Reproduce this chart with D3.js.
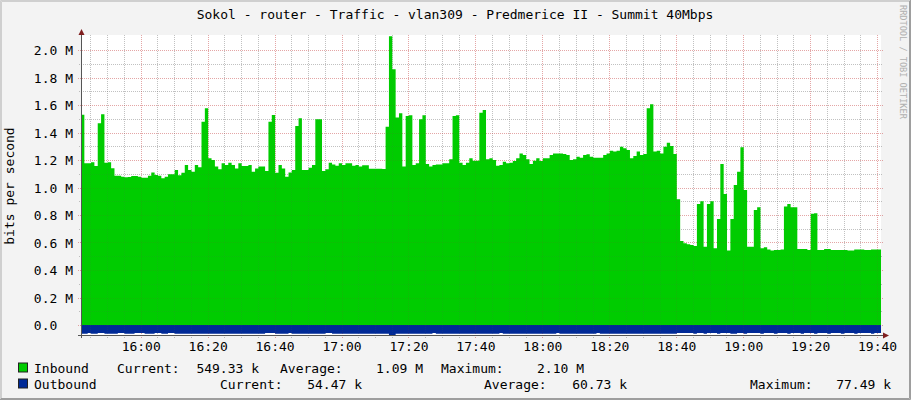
<!DOCTYPE html>
<html><head><meta charset="utf-8">
<script src="https://cdn.jsdelivr.net/npm/d3@7"></script>
<style>
body{margin:0;background:#F3F3F3;}
svg{display:block;font-family:"DejaVu Sans Mono",monospace;}
</style></head><body>
<svg id="c" width="911" height="400"></svg>
<script>
const title = "Sokol - router - Traffic - vlan309 - Predmerice II - Summit 40Mbps";
const yAxisTitle = "bits per second";
const watermark = "RRDTOOL / TOBI OETIKER";
// one value per minute starting at 15:42:10 (Mbit/s)
const inboundM = [
1.53,1.176,1.176,1.183,1.156,1.467,1.532,1.18,1.183,1.14,
1.086,1.086,1.079,1.074,1.076,1.084,1.084,1.079,1.071,1.071,
1.086,1.11,1.091,1.086,1.067,1.079,1.096,1.096,1.127,1.09,
1.108,1.164,1.127,1.115,1.164,1.147,1.479,1.576,1.212,1.2,
1.152,1.132,1.176,1.164,1.18,1.164,1.139,1.176,1.156,1.156,
1.164,1.115,1.139,1.152,1.152,1.12,1.479,1.527,1.108,1.164,
1.139,1.079,1.11,1.127,1.447,1.503,1.127,1.127,1.144,1.164,
1.496,1.496,1.12,1.132,1.18,1.168,1.159,1.176,1.164,1.176,
1.176,1.159,1.164,1.152,1.161,1.161,1.137,1.137,1.137,1.137,
1.135,1.442,2.10,1.86,1.51,1.54,1.152,1.52,1.525,1.164,
1.176,1.496,1.525,1.171,1.152,1.164,1.168,1.168,1.176,1.176,
1.205,1.52,1.525,1.18,1.164,1.18,1.212,1.195,1.195,1.544,
1.564,1.205,1.212,1.2,1.159,1.164,1.188,1.176,1.18,1.193,
1.212,1.248,1.236,1.205,1.171,1.195,1.212,1.193,1.212,1.212,
1.236,1.248,1.248,1.248,1.244,1.236,1.2,1.205,1.224,1.217,
1.236,1.241,1.224,1.217,1.217,1.217,1.236,1.248,1.268,1.261,
1.268,1.297,1.285,1.273,1.212,1.229,1.261,1.236,1.244,1.576,
1.605,1.261,1.268,1.248,1.297,1.326,1.302,1.244,0.914,0.611,
0.594,0.587,0.582,0.575,0.88,0.9,0.57,0.88,0.9,0.558,
0.771,1.171,0.953,0.541,0.771,1.018,1.115,1.292,0.982,0.57,
0.57,0.836,0.856,0.558,0.565,0.55,0.541,0.545,0.545,0.55,
0.861,0.88,0.856,0.856,0.553,0.553,0.553,0.545,0.81,0.812,
0.545,0.545,0.553,0.553,0.545,0.545,0.545,0.545,0.545,0.541,
0.541,0.55,0.55,0.55,0.545,0.545,0.55,0.55,0.549
];
// outbound, kbit/s, one value per minute
const outboundK = [
64,64,58,64,64,58,58,64,64,64,
64,58,58,64,64,64,58,58,58,64,
64,64,58,58,64,64,58,58,64,64,
64,64,64,64,64,64,64,64,64,64,
64,64,64,64,64,64,64,64,64,64,
64,64,64,64,64,58,58,58,64,64,
64,64,58,64,64,64,64,64,64,64,
64,64,64,58,58,64,64,64,64,64,
64,64,64,64,64,64,64,64,64,64,
64,64,72,72,64,64,64,64,64,64,
64,64,64,64,64,58,64,64,64,64,
64,64,64,64,64,64,64,64,64,64,
64,64,64,64,64,58,64,64,64,64,
64,64,64,64,64,64,64,64,64,64,
64,64,58,64,64,64,64,64,64,64,
64,64,64,64,58,64,64,64,64,64,
64,64,64,64,64,64,64,64,64,64,
64,64,64,64,64,64,64,64,58,58,
58,58,58,64,58,58,64,58,58,58,
64,58,58,58,64,64,58,58,64,58,
58,58,58,64,58,58,58,64,58,58,
58,64,58,58,58,64,58,58,58,64,
58,58,58,64,58,58,58,64,58,58,
58,64,58,58,58,58,64,58,58
];
const startTime = [15, 42, 10];
const stepSeconds = 60;
const yTickValuesM = [0, 0.2, 0.4, 0.6, 0.8, 1.0, 1.2, 1.4, 1.6, 1.8, 2.0];
const yTickLabels = ["0.0  ", "0.2 M", "0.4 M", "0.6 M", "0.8 M", "1.0 M", "1.2 M", "1.4 M", "1.6 M", "1.8 M", "2.0 M"];
const xTickLabels = ["16:00","16:20","16:40","17:00","17:20","17:40","18:00","18:20","18:40","19:00","19:20","19:40"];
const legendRows = [
  {name:"Inbound",  color:"#00CC00", labels:["Current:","Average:","Maximum:"], values:["549.33 k","1.09 M","2.10 M"]},
  {name:"Outbound", color:"#002A97", labels:["Current:","Average:","Maximum:"], values:["54.47 k","60.73 k","77.49 k"]}
];

const W = 911, H = 400;
const plot = {l:81, r:881, t:35, b:335};
const svg = d3.select("#c");

// frame
svg.append("rect").attr("x",0).attr("y",0).attr("width",W).attr("height",H).attr("fill","#F3F3F3");
svg.append("path").attr("d",`M0.5,${H}V0.5H${W}`).attr("stroke","#CFCFCF").attr("fill","none");
svg.append("path").attr("d",`M1.5,${H-1}V1.5H${W-1}`).attr("stroke","#CFCFCF").attr("fill","none");
svg.append("path").attr("d",`M0,${H-0.5}H${W-0.5}V0`).attr("stroke","#9E9E9E").attr("fill","none");
svg.append("path").attr("d",`M1,${H-1.5}H${W-1.5}V1`).attr("stroke","#9E9E9E").attr("fill","none");

const t0 = new Date(2000,0,1,startTime[0],startTime[1],startTime[2]);
const times = inboundM.map((d,i)=> new Date(t0.getTime() + i*stepSeconds*1000));
const tEnd = new Date(t0.getTime() + inboundM.length*stepSeconds*1000);
const x = d3.scaleTime().domain([t0, tEnd]).range([plot.l, plot.r]);
const y = d3.scaleLinear().domain([0, 2.0]).range([325, 50]);

const parseHM = s => { const [h,m] = s.split(":").map(Number); return new Date(2000,0,1,h,m,0); };
const majorTimes = xTickLabels.map(parseHM);
const minorTimes = d3.timeMinute.every(5).range(t0, tEnd);

// canvas
svg.append("rect").attr("x",plot.l).attr("y",plot.t).attr("width",plot.r-plot.l).attr("height",plot.b-plot.t).attr("fill","#FFFFFF");

svg.append("clipPath").attr("id","pc").append("rect")
  .attr("x",plot.l).attr("y",plot.t).attr("width",plot.r-plot.l).attr("height",plot.b-plot.t);

// grid
const minorYs = d3.range(1, 21).filter(k=>k%2===1).map(k=>k/10);
const crisp = v => Math.round(v)+0.5;
function drawGrid(parent, minorCol, majorCol){
  const g = parent.append("g");
  minorYs.forEach(v=>{
    g.append("line").attr("x1",plot.l-2).attr("x2",plot.r+2).attr("y1",crisp(y(v))).attr("y2",crisp(y(v)))
     .attr("stroke",minorCol).attr("stroke-dasharray","1,1");
  });
  minorTimes.filter(t=>t.getMinutes()%20!==0).forEach(t=>{
    g.append("line").attr("y1",plot.t).attr("y2",plot.b+3).attr("x1",crisp(x(t))).attr("x2",crisp(x(t)))
     .attr("stroke",minorCol).attr("stroke-dasharray","1,1");
  });
  yTickValuesM.forEach(v=>{
    g.append("line").attr("x1",plot.l-3).attr("x2",plot.r+3).attr("y1",crisp(y(v))).attr("y2",crisp(y(v)))
     .attr("stroke",majorCol).attr("stroke-dasharray","1,1");
  });
  majorTimes.forEach(t=>{
    g.append("line").attr("y1",plot.t).attr("y2",plot.b+3).attr("x1",crisp(x(t))).attr("x2",crisp(x(t)))
     .attr("stroke",majorCol).attr("stroke-dasharray","1,1");
  });
  return g;
}
drawGrid(svg, "rgba(143,143,143,0.42)", "rgba(222,79,79,0.42)");

// data areas
const pts = inboundM.map((v,i)=>({t:times[i], v:v}));
pts.push({t:tEnd, v:inboundM[inboundM.length-1]});
const inArea = d3.area().curve(d3.curveStepAfter).x(d=>x(d.t)).y0(y(0)).y1(d=>y(d.v));
svg.append("path").datum(pts).attr("d",inArea).attr("fill","#00CC00").attr("clip-path","url(#pc)");

const opts = outboundK.map((v,i)=>({t:times[i], v:-v/1000}));
opts.push({t:tEnd, v:-outboundK[outboundK.length-1]/1000});
const outArea = d3.area().curve(d3.curveStepAfter).x(d=>x(d.t)).y0(y(0)).y1(d=>y(d.v));
svg.append("path").datum(opts).attr("d",outArea).attr("fill","#002A97").attr("clip-path","url(#pc)");

// faint grid over the data
drawGrid(svg, "rgba(90,90,90,0.12)", "rgba(140,60,60,0.12)");

// axes lines
svg.append("line").attr("x1",plot.l-3).attr("x2",plot.r+3).attr("y1",plot.b+0.5).attr("y2",plot.b+0.5).attr("stroke","#555");
svg.append("line").attr("x1",plot.l+0.5).attr("x2",plot.l+0.5).attr("y1",plot.t-1).attr("y2",plot.b+3).attr("stroke","#555");
svg.append("path").attr("d",`M${plot.l+0.5-3},${plot.t}L${plot.l+0.5},${plot.t-6}L${plot.l+0.5+3},${plot.t}Z`).attr("fill","#801F1F");
svg.append("path").attr("d",`M${plot.r+2},${plot.b+0.5-3}L${plot.r+8},${plot.b+0.5}L${plot.r+2},${plot.b+0.5+3}Z`).attr("fill","#801F1F");

// axes labels via d3 axes
const yAxis = d3.axisLeft(y).tickValues(yTickValuesM).tickSize(0).tickPadding(0)
  .tickFormat((d,i)=>yTickLabels[i]);
const ya = svg.append("g").attr("transform",`translate(73,0)`).call(yAxis);
ya.select(".domain").remove();
ya.selectAll("text").attr("font-family","DejaVu Sans Mono").attr("font-size",13).attr("fill","#000")
  .attr("text-anchor","end").attr("dy","0.35em").style("white-space","pre");

const xAxis = d3.axisBottom(x).tickValues(majorTimes).tickSize(0).tickPadding(0)
  .tickFormat((d,i)=>xTickLabels[i]);
const xa = svg.append("g").attr("transform",`translate(0,342)`).call(xAxis);
xa.select(".domain").remove();
xa.selectAll("text").attr("font-family","DejaVu Sans Mono").attr("font-size",13).attr("fill","#000").attr("dy","0.72em");

// titles
svg.append("text").attr("x",455).attr("y",19).attr("text-anchor","middle").attr("font-size",13).text(title);
svg.append("text").attr("transform","translate(14,186) rotate(-90)").attr("text-anchor","middle").attr("font-size",13).text(yAxisTitle);
svg.append("text").attr("transform","translate(900,5) rotate(90)").attr("font-size",8.6).attr("fill","#B0B0B0").text(watermark);

// legend
const rowY = [372.5, 388.5];
const labelX = [[117,280,441],[220,484,750]];
const valueEndX = [[259,423,584],[362,627,891]];
legendRows.forEach((r,ri)=>{
  svg.append("rect").attr("x",18.5).attr("y",rowY[ri]-9.5).attr("width",9).attr("height",9)
    .attr("fill",r.color).attr("stroke","#222");
  svg.append("text").attr("x",34).attr("y",rowY[ri]).attr("font-size",13).text(r.name);
  r.labels.forEach((lab,j)=>{
    svg.append("text").attr("x",labelX[ri][j]).attr("y",rowY[ri]).attr("font-size",13).text(lab);
    svg.append("text").attr("x",valueEndX[ri][j]).attr("y",rowY[ri]).attr("text-anchor","end").attr("font-size",13).text(r.values[j]);
  });
});
</script></body></html>
